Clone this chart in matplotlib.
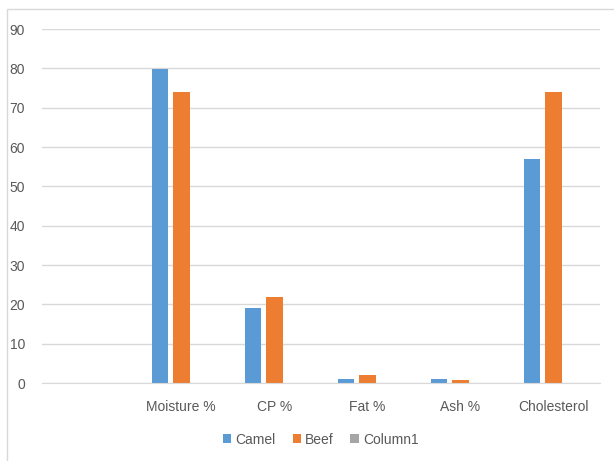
import matplotlib.pyplot as plt
from matplotlib.patches import Rectangle
import numpy as np

categories = ['', 'Moisture %', 'CP %', 'Fat %', 'Ash %', 'Cholesterol']
camel = [0, 79.8, 19, 1, 1, 57]
beef = [0, 74, 22, 2, 0.7, 74]
column1 = [0, 0, 0, 0, 0, 0]

plt.rcParams['font.family'] = ['Liberation Sans Narrow', 'Liberation Sans', 'DejaVu Sans']

fig = plt.figure(figsize=(6.14, 4.61), dpi=100)
ax = fig.add_axes([0.068, 0.169, 0.909, 0.768])

x = np.arange(len(categories))
w = 0.18
gap = 0.05
ax.bar(x - w - gap, camel, w, color='#5B9BD5', label='Camel')
ax.bar(x, beef, w, color='#ED7D31', label='Beef')
ax.bar(x + w + gap, column1, w, color='#A5A5A5', label='Column1')

ax.set_xlim(-0.5, len(categories) - 0.5)
ax.set_ylim(0, 90)
ax.set_yticks(np.arange(0, 91, 10))
ax.set_xticks(x)
ax.set_xticklabels(categories)
ax.yaxis.grid(True, color='#D9D9D9', linewidth=1)
ax.set_axisbelow(True)
for s in ['top', 'right', 'left']:
    ax.spines[s].set_visible(False)
ax.spines['bottom'].set_color('#D9D9D9')
ax.tick_params(axis='both', length=0, labelcolor='#595959', labelsize=10)
ax.tick_params(axis='y', pad=12)
ax.tick_params(axis='x', pad=12)

ax.legend(loc='upper center', bbox_to_anchor=(0.5, -0.105), ncol=3, frameon=False,
          handlelength=0.6, handleheight=0.6, handletextpad=0.3, columnspacing=1.2,
          fontsize=10, labelcolor='#595959')

fig.patches.append(Rectangle((7 / 614, -0.1), 1.2, 1 - 9 / 461 + 0.1, transform=fig.transFigure,
                             fill=False, edgecolor='#D9D9D9', linewidth=1))

fig.savefig('out.png', dpi=100)
